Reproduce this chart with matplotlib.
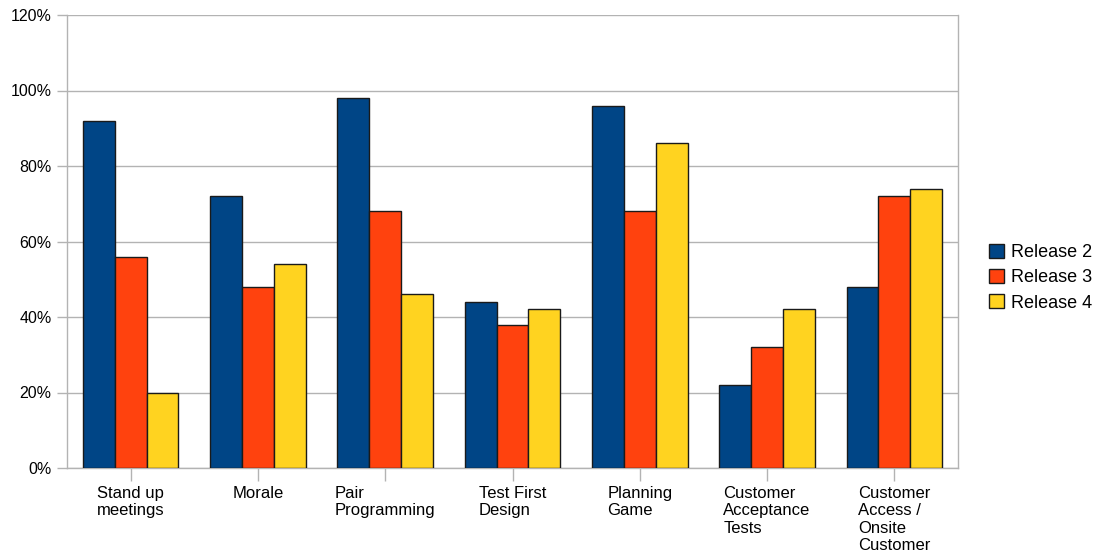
import numpy as np
import matplotlib
matplotlib.use("Agg")
import matplotlib.pyplot as plt
from matplotlib.ticker import FuncFormatter

plt.rcParams['font.family'] = ['Liberation Sans', 'DejaVu Sans']

categories = ["Stand up\nmeetings", "Morale", "Pair\nProgramming", "Test First\nDesign",
              "Planning\nGame", "Customer\nAcceptance\nTests", "Customer\nAccess /\nOnsite\nCustomer"]
release2 = [92, 72, 98, 44, 96, 22, 48]
release3 = [56, 48, 68, 38, 68, 32, 72]
release4 = [20, 54, 46, 42, 86, 42, 74]
series_names = ["Release 2", "Release 3", "Release 4"]
colors = ["#004586", "#ff420e", "#ffd320"]

fig = plt.figure(figsize=(10.99, 5.56), dpi=100)
ax = fig.add_axes([67/1099, 88/556, (958-67)/1099, (468-15)/556])

x = np.arange(len(categories))
w = 0.25
for i, (vals, name, c) in enumerate(zip([release2, release3, release4], series_names, colors)):
    ax.bar(x + (i - 1) * w, vals, width=w, color=c, edgecolor="#1a1a1a",
           linewidth=1.0, label=name, zorder=3)

ax.set_xlim(-0.5, len(categories) - 0.5)
ax.set_ylim(0, 120)
ax.set_yticks(np.arange(0, 121, 20))
ax.yaxis.set_major_formatter(FuncFormatter(lambda v, p: f"{int(v)}%"))
ax.grid(axis="y", color="#b3b3b3", linewidth=1.0, zorder=0)
ax.set_axisbelow(True)

ax.set_xticks(x)
ax.set_xticklabels(categories, multialignment="left", fontsize=12, linespacing=1.2)
ax.tick_params(axis="x", direction="out", length=9, width=1, color="#b3b3b3", pad=4)
ax.tick_params(axis="y", direction="out", length=7, width=1, color="#b3b3b3", labelsize=11.5, pad=4)

for s in ax.spines.values():
    s.set_color("#b3b3b3")
    s.set_linewidth(1.0)
ax.spines["top"].set_visible(False)

leg = ax.legend(loc="center left", bbox_to_anchor=(1.025, 0.42), frameon=False,
                fontsize=13, handlelength=0.8, handleheight=0.8, handletextpad=0.4,
                labelspacing=0.45, borderpad=0)

fig.savefig("out.png", dpi=100)
